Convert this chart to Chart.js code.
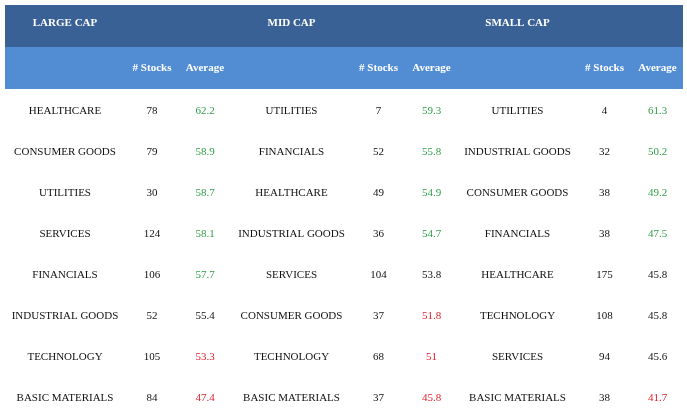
<!DOCTYPE html>
<html><head><meta charset="utf-8">
<script src="https://cdn.jsdelivr.net/npm/chart.js@4"></script>
<style>body{margin:0;background:#fff}#w{width:687px;height:414px}</style>
</head><body><div id="w"><canvas id="c"></canvas></div>
<script>
const groups = ["LARGE CAP","MID CAP","SMALL CAP"];
const colHeaders = ["# Stocks","Average"];
const largeSectors = ["HEALTHCARE","CONSUMER GOODS","UTILITIES","SERVICES","FINANCIALS","INDUSTRIAL GOODS","TECHNOLOGY","BASIC MATERIALS"];
const largeStocks = [78,79,30,124,106,52,105,84];
const largeAvg = [62.2,58.9,58.7,58.1,57.7,55.4,53.3,47.4];
const largeTone = ["up","up","up","up","up","mid","down","down"];
const midSectors = ["UTILITIES","FINANCIALS","HEALTHCARE","INDUSTRIAL GOODS","SERVICES","CONSUMER GOODS","TECHNOLOGY","BASIC MATERIALS"];
const midStocks = [7,52,49,36,104,37,68,37];
const midAvg = [59.3,55.8,54.9,54.7,53.8,51.8,51,45.8];
const midTone = ["up","up","up","up","mid","down","down","down"];
const smallSectors = ["UTILITIES","INDUSTRIAL GOODS","CONSUMER GOODS","FINANCIALS","HEALTHCARE","TECHNOLOGY","SERVICES","BASIC MATERIALS"];
const smallStocks = [4,32,38,38,175,108,94,38];
const smallAvg = [61.3,50.2,49.2,47.5,45.8,45.8,45.6,41.7];
const smallTone = ["up","up","up","up","mid","mid","mid","down"];

const tables = [[largeSectors,largeStocks,largeAvg,largeTone],[midSectors,midStocks,midAvg,midTone],[smallSectors,smallStocks,smallAvg,smallTone]];
const toneColor = {up:"#2e9e48",mid:"#111",down:"#e0202c"};
const groupX = [0,226.5,452.5]; // offsets
const colX = [65,152,205];

const tablePlugin = {
  id:'tbl',
  beforeDraw(chart){
    const ctx=chart.ctx, x=chart.scales.x, y=chart.scales.y;
    ctx.save();
    ctx.fillStyle="#3a6196"; ctx.fillRect(5,5,678,42);
    ctx.fillStyle="#528dd4"; ctx.fillRect(5,47,678,42);
    ctx.textAlign="center"; ctx.textBaseline="middle";
    ctx.fillStyle="#fff"; ctx.font="bold 11px 'Liberation Serif'";
    groups.forEach((g,gi)=>{
      ctx.fillText(g, x.getPixelForValue(groupX[gi]+colX[0]), y.getPixelForValue(-2.15));
      colHeaders.forEach((h,hi)=>ctx.fillText(h, x.getPixelForValue(groupX[gi]+colX[hi+1]), y.getPixelForValue(-1.05)));
    });
    ctx.font="11px 'Liberation Serif'";
    tables.forEach((t,gi)=>{
      t[0].forEach((s,i)=>{
        const py=y.getPixelForValue(i);
        ctx.fillStyle="#111";
        ctx.fillText(s, x.getPixelForValue(groupX[gi]+colX[0]), py);
        ctx.fillText(String(t[1][i]), x.getPixelForValue(groupX[gi]+colX[1]), py);
        ctx.fillStyle=toneColor[t[3][i]];
        ctx.fillText(String(t[2][i]), x.getPixelForValue(groupX[gi]+colX[2]), py);
      });
    });
    ctx.restore();
  }
};
new Chart(document.getElementById('c'),{
  type:'scatter',
  data:{datasets:[{data:[],pointRadius:0}]},
  options:{
    responsive:true,maintainAspectRatio:false,animation:false,
    layout:{padding:0},
    plugins:{legend:{display:false},tooltip:{enabled:false}},
    scales:{
      x:{type:'linear',min:0,max:687,display:false},
      y:{type:'linear',min:-111/41,max:303/41,reverse:true,display:false}
    }
  },
  plugins:[tablePlugin]
});
</script></body></html>
